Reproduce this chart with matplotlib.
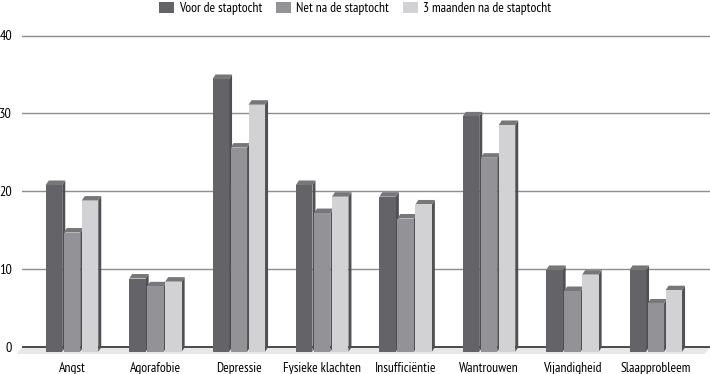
import matplotlib
matplotlib.use("Agg")
import matplotlib.pyplot as plt
from matplotlib.patches import Polygon, Patch
from matplotlib.transforms import blended_transform_factory

# donnees
categories = ["Angst", "Agorafobie", "Depressie", "Fysieke klachten",
              "Insufficiëntie", "Wantrouwen", "Vijandigheid", "Slaapprobleem"]
voor = [21.4, 9.4, 35.0, 21.4, 19.9, 30.2, 10.5, 10.5]
net_na = [15.3, 8.4, 26.2, 17.8, 17.1, 24.9, 7.8, 6.2]
drie_maanden = [19.4, 9.0, 31.7, 19.9, 18.9, 29.1, 9.9, 7.9]
series_labels = ["Voor de staptocht", "Net na de staptocht", "3 maanden na de staptocht"]
yticks = [0, 10, 20, 30, 40]

front_colors = ["#646468", "#939397", "#d2d2d4"]
top_color = "#77777a"
side_color = "#505054"

# police etroite (comme dans l'original), sinon DejaVu condensee
plt.rcParams['font.family'] = ['PT Sans Narrow', 'DejaVu Sans']
plt.rcParams['font.stretch'] = 'condensed'
fs = 9.8

W, H = 710, 374
fig = plt.figure(figsize=(W / 100, H / 100), dpi=100)

# placement de l'axe en pixels
x_left, x_right = 22, 710
ymin, ymax = -1.4, 40.7
px_unit = (347.3 - 35.5) / 40
y_bot = 347.3 - ymin * px_unit
y_top = 347.3 - ymax * px_unit
ax = fig.add_axes([x_left / W, (H - y_bot) / H, (x_right - x_left) / W, (y_bot - y_top) / H])

pitch_px = 83.4
xmin = -(72 - x_left) / pitch_px
xmax = (x_right - 72) / pitch_px
ax.set_xlim(xmin, xmax)
ax.set_ylim(ymin, ymax)

# effet 3D : decalage de profondeur
dx = 3.0 / pitch_px
dy = 4.5 / px_unit
bar_w = 16.5 / pitch_px
step = 18.0 / pitch_px

# grille et sol
for t in yticks[1:]:
    ax.axhline(t, color="#8e8e8e", lw=1.0, zorder=1)
floor_tr = blended_transform_factory(ax.transAxes, ax.transData)
off = 5.5 / (x_right - x_left)
floor = Polygon([(0, 0), (1, 0), (1 - off, -0.85), (-off, -0.85)], closed=True,
                transform=floor_tr, facecolor="#e8e8e8", edgecolor="none", zorder=1, clip_on=False)
ax.add_patch(floor)
ax.axhline(0, color="#1a1a1a", lw=1.1, zorder=2)

allseries = [voor, net_na, drie_maanden]
for i in range(len(categories)):
    for j, serie in enumerate(allseries):
        v = serie[i]
        xl = i + (j - 1) * step - bar_w / 2
        xr = xl + bar_w
        yb = -dy
        yt = v - dy
        z = 3 + i * 3 + j
        # face droite, dessus, face avant
        ax.add_patch(Polygon([(xr, yb), (xr + dx, yb + dy), (xr + dx, v), (xr, yt)],
                             closed=True, facecolor=side_color, edgecolor="none", zorder=z))
        ax.add_patch(Polygon([(xl, yt), (xl + dx, v), (xr + dx, v), (xr, yt)],
                             closed=True, facecolor=top_color, edgecolor="none", zorder=z))
        ax.add_patch(Polygon([(xl, yb), (xr, yb), (xr, yt), (xl, yt)],
                             closed=True, facecolor=front_colors[j], edgecolor="none", zorder=z))

for s in ax.spines.values():
    s.set_visible(False)
ax.set_yticks(yticks)
ax.set_yticklabels([str(t) for t in yticks], fontsize=fs + 0.5)
ax.set_xticks(range(len(categories)))
ax.set_xticklabels(categories, fontsize=fs)
ax.tick_params(axis="both", length=0)
ax.tick_params(axis="y", pad=7)
ax.tick_params(axis="x", pad=3)

handles = [Patch(facecolor=c, edgecolor="none") for c in front_colors]
fig.legend(handles, series_labels, ncol=3, loc="upper center", bbox_to_anchor=(355 / W, 1.01),
           frameon=False, fontsize=fs, handlelength=1.1, handleheight=0.9,
           handletextpad=0.4, columnspacing=1.0, borderaxespad=0)

fig.savefig("out.png", dpi=100)
